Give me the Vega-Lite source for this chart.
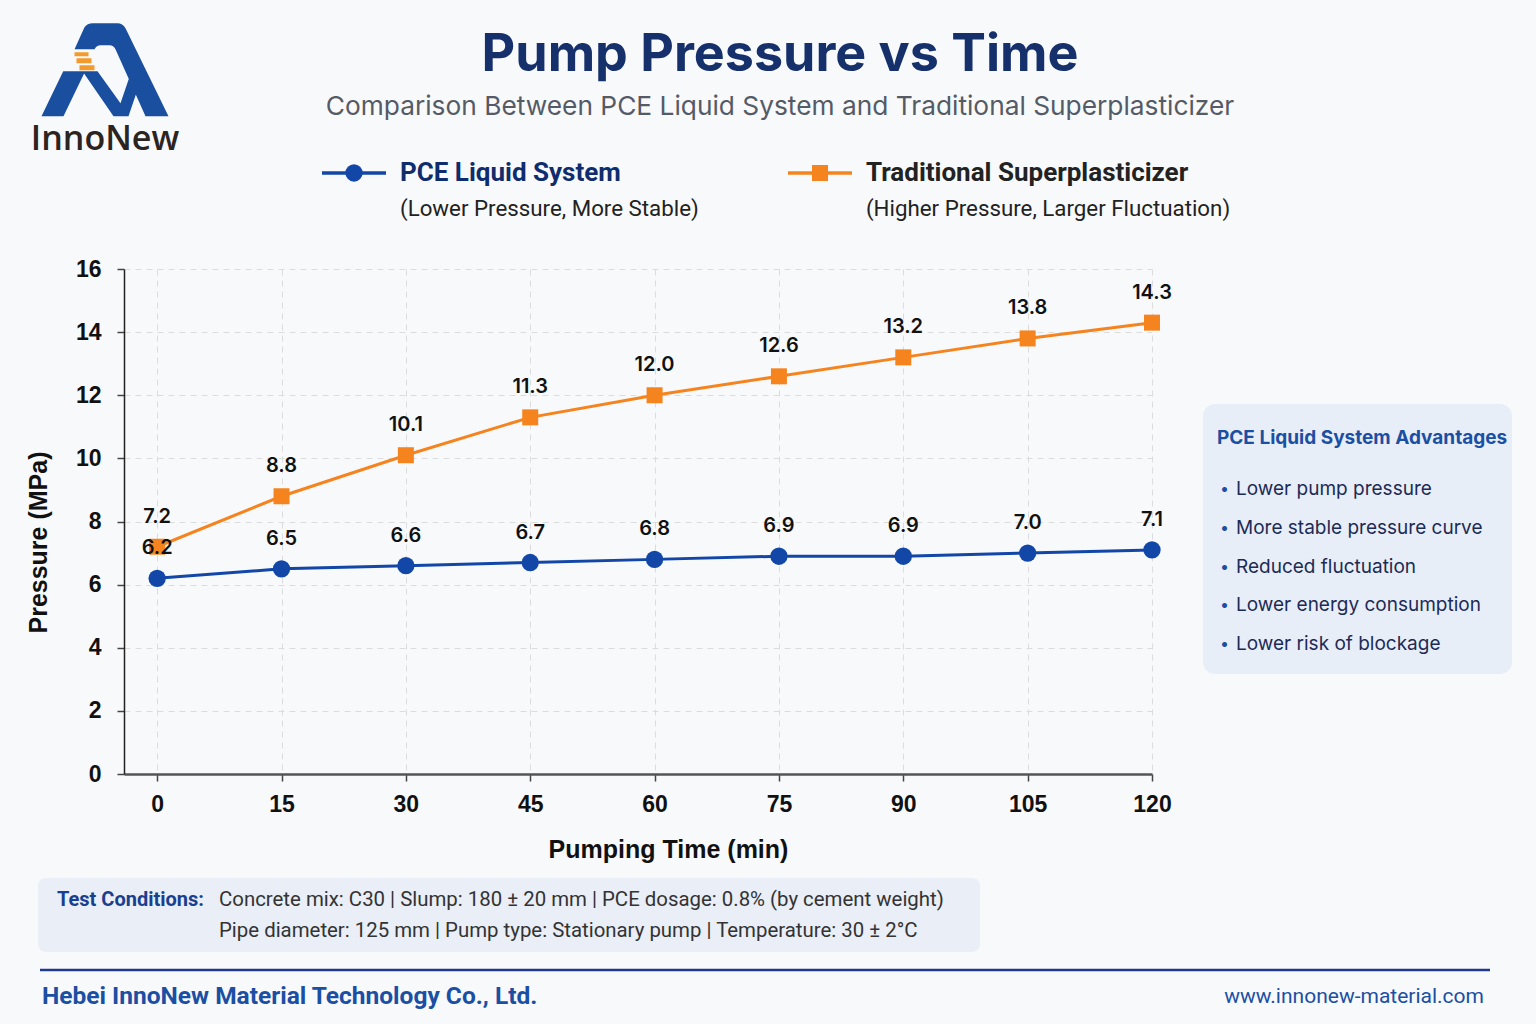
{
  "$schema": "https://vega.github.io/schema/vega-lite/v6.json",
  "background": "#f8f9fb",
  "padding": {"left": 25, "top": 15, "right": 24, "bottom": 13},
  "spacing": 16,
  "config": {"view": {"stroke": null}, "font": "Inter"},
  "datasets": {
    "pressure": [
      {"time": 0, "series": "PCE Liquid System", "pressure": 6.2},
      {"time": 15, "series": "PCE Liquid System", "pressure": 6.5},
      {"time": 30, "series": "PCE Liquid System", "pressure": 6.6},
      {"time": 45, "series": "PCE Liquid System", "pressure": 6.7},
      {"time": 60, "series": "PCE Liquid System", "pressure": 6.8},
      {"time": 75, "series": "PCE Liquid System", "pressure": 6.9},
      {"time": 90, "series": "PCE Liquid System", "pressure": 6.9},
      {"time": 105, "series": "PCE Liquid System", "pressure": 7.0},
      {"time": 120, "series": "PCE Liquid System", "pressure": 7.1},
      {"time": 0, "series": "Traditional Superplasticizer", "pressure": 7.2},
      {"time": 15, "series": "Traditional Superplasticizer", "pressure": 8.8},
      {"time": 30, "series": "Traditional Superplasticizer", "pressure": 10.1},
      {"time": 45, "series": "Traditional Superplasticizer", "pressure": 11.3},
      {"time": 60, "series": "Traditional Superplasticizer", "pressure": 12.0},
      {"time": 75, "series": "Traditional Superplasticizer", "pressure": 12.6},
      {"time": 90, "series": "Traditional Superplasticizer", "pressure": 13.2},
      {"time": 105, "series": "Traditional Superplasticizer", "pressure": 13.8},
      {"time": 120, "series": "Traditional Superplasticizer", "pressure": 14.3}
    ],
    "legend": [
      {"series": "PCE Liquid System", "note": "(Lower Pressure, More Stable)"},
      {"series": "Traditional Superplasticizer", "note": "(Higher Pressure, Larger Fluctuation)"}
    ],
    "header": [
      {"title": "Pump Pressure vs Time", "subtitle": "Comparison Between PCE Liquid System and Traditional Superplasticizer"}
    ],
    "brand": [
      {"name": "InnoNew", "company": "Hebei InnoNew Material Technology Co., Ltd.", "url": "www.innonew-material.com"}
    ],
    "advantages": [
      {"n": 0, "text": "PCE Liquid System Advantages"},
      {"n": 1, "text": "Lower pump pressure"},
      {"n": 2, "text": "More stable pressure curve"},
      {"n": 3, "text": "Reduced fluctuation"},
      {"n": 4, "text": "Lower energy consumption"},
      {"n": 5, "text": "Lower risk of blockage"}
    ],
    "conditions": [
      {"line": 1, "text": "Concrete mix: C30 | Slump: 180 ± 20 mm | PCE dosage: 0.8% (by cement weight)"},
      {"line": 2, "text": "Pipe diameter: 125 mm | Pump type: Stationary pump | Temperature: 30 ± 2°C"}
    ]
  },
  "vconcat": [
    {
      "spacing": 0,
      "hconcat": [
        {
          "width": 160,
          "height": 180,
          "data": {"name": "brand"},
          "layer": [
            {
              "mark": {"type": "point", "shape": "M-0.48,-0.323L-0.323,-0.669Q-0.276,-0.732,-0.197,-0.732L0.197,-0.732Q0.276,-0.732,0.323,-0.654L1,0.732L0.638,0.732L0.165,-0.323Q0.134,-0.386,0.071,-0.386L-0.071,-0.386Q-0.134,-0.386,-0.165,-0.323ZM-0.658,0.024L-0.312,0.024L-0.654,0.732L-1,0.732ZM-0.354,0.024L-0.118,0.024L0.244,0.528L0.48,-0.165L0.606,0.039L0.37,0.732L0.134,0.732Z", "size": 16129, "filled": true, "color": "#1a4fa0", "opacity": 1, "strokeWidth": 0},
              "encoding": {"y": {"datum": "glyph", "type": "nominal", "scale": {"type": "point", "domain": ["glyph", "name"], "padding": 0.7766, "align": 0.5}, "axis": null}}
            },
            {
              "mark": {"type": "point", "shape": "M-0.48,-0.276L-0.26,-0.276L-0.26,-0.213L-0.48,-0.213ZM-0.449,-0.181L-0.213,-0.181L-0.213,-0.102L-0.449,-0.102ZM-0.402,-0.071L-0.165,-0.071L-0.165,0.008L-0.402,0.008Z", "size": 16129, "filled": true, "color": "#f39a2c", "opacity": 1, "strokeWidth": 0},
              "encoding": {"y": {"datum": "glyph", "type": "nominal"}}
            },
            {
              "mark": {"type": "text", "font": "Open Sans", "fontSize": 34, "fontWeight": 600, "color": "#2b2421"},
              "encoding": {"y": {"datum": "name", "type": "nominal"}, "text": {"field": "name"}}
            }
          ]
        },
        {
          "spacing": 0,
          "vconcat": [
            {
              "width": 1190,
              "height": 130,
              "data": {"name": "header"},
              "layer": [
                {
                  "mark": {"type": "text", "font": "Inter", "fontSize": 52, "fontWeight": "bold", "color": "#15306b"},
                  "encoding": {"y": {"datum": "title", "type": "nominal", "scale": {"type": "point", "domain": ["title", "subtitle"], "padding": 0.75, "align": 0.5128}, "axis": null}, "text": {"field": "title"}}
                },
                {
                  "mark": {"type": "text", "font": "Inter", "fontSize": 26.3, "color": "#555b66"},
                  "encoding": {"y": {"datum": "subtitle", "type": "nominal"}, "text": {"field": "subtitle"}}
                }
              ]
            },
            {
              "width": 804,
              "height": 97,
              "data": {"name": "legend"},
              "encoding": {
                "x": {"field": "series", "type": "nominal", "scale": {"type": "point", "domain": ["PCE Liquid System", "Traditional Superplasticizer"], "padding": 0.3627}, "axis": null}
              },
              "layer": [
                {
                  "mark": {"type": "point", "shape": "stroke", "size": 4096, "strokeWidth": 3.5, "opacity": 1, "filled": false},
                  "encoding": {
                    "y": {"datum": "name", "type": "nominal", "scale": {"type": "point", "domain": ["name", "note"], "padding": 0.847, "align": 0.459}, "axis": null},
                    "color": {"field": "series", "type": "nominal", "scale": {"domain": ["PCE Liquid System", "Traditional Superplasticizer"], "range": ["#1247a8", "#f5841f"]}, "legend": null}
                  }
                },
                {
                  "mark": {"type": "point", "filled": true, "opacity": 1, "strokeWidth": 0},
                  "encoding": {
                    "y": {"datum": "name", "type": "nominal"},
                    "color": {"field": "series", "type": "nominal", "scale": {"domain": ["PCE Liquid System", "Traditional Superplasticizer"], "range": ["#1247a8", "#f5841f"]}, "legend": null},
                    "shape": {"field": "series", "type": "nominal", "scale": {"domain": ["PCE Liquid System", "Traditional Superplasticizer"], "range": ["circle", "square"]}, "legend": null},
                    "size": {"field": "series", "type": "nominal", "scale": {"domain": ["PCE Liquid System", "Traditional Superplasticizer"], "range": [300, 256]}, "legend": null}
                  }
                },
                {
                  "mark": {"type": "text", "align": "left", "dx": 46, "font": "Roboto", "fontSize": 26, "fontWeight": "bold"},
                  "encoding": {
                    "y": {"datum": "name", "type": "nominal"},
                    "text": {"field": "series"},
                    "color": {"condition": {"test": "datum.series === 'PCE Liquid System'", "value": "#0f2d6e"}, "value": "#222222"}
                  }
                },
                {
                  "mark": {"type": "text", "align": "left", "dx": 46, "font": "Roboto", "fontSize": 22.3, "color": "#222222"},
                  "encoding": {
                    "y": {"datum": "note", "type": "nominal"},
                    "text": {"field": "note"}
                  }
                }
              ]
            }
          ]
        }
      ]
    },
    {
      "spacing": 0,
      "hconcat": [
        {"width": 1, "height": 10, "data": {"values": []}, "mark": "point"},
        {
          "spacing": 31,
          "hconcat": [
            {
              "width": 1028,
              "height": 505,
              "data": {"name": "pressure"},
              "encoding": {
                "x": {
                  "field": "time", "type": "quantitative",
                  "scale": {"domain": [-4, 120], "nice": false, "zero": false},
                  "axis": {"values": [0, 15, 30, 45, 60, 75, 90, 105, 120], "title": "Pumping Time (min)", "titleX": 544, "grid": true, "gridDash": [6, 5], "gridColor": "#dcdcdc", "gridWidth": 1, "domainColor": "#555555", "domainWidth": 2.5, "tickColor": "#444444", "tickWidth": 1.5, "tickSize": 7, "labelFlush": false, "labelFont": "Liberation Sans", "labelFontSize": 23, "labelFontWeight": "bold", "labelColor": "#111111", "labelPadding": 12, "titleFont": "Liberation Sans", "titleFontSize": 25, "titleFontWeight": "bold", "titleColor": "#111111", "titlePadding": 21}
                },
                "y": {
                  "field": "pressure", "type": "quantitative",
                  "scale": {"domain": [0, 16], "nice": false},
                  "axis": {"values": [0, 2, 4, 6, 8, 10, 12, 14, 16], "title": "Pressure (MPa)", "titleY": 273, "grid": true, "gridDash": [6, 5], "gridColor": "#dcdcdc", "gridWidth": 1, "domainColor": "#222222", "domainWidth": 1.5, "tickColor": "#444444", "tickWidth": 1.5, "tickSize": 7, "labelFlush": false, "labelFont": "Liberation Sans", "labelFontSize": 23, "labelFontWeight": "bold", "labelColor": "#111111", "labelPadding": 16, "titleFont": "Liberation Sans", "titleFontSize": 25, "titleFontWeight": "bold", "titleColor": "#111111", "titlePadding": 24}
                },
                "color": {"field": "series", "type": "nominal", "scale": {"domain": ["PCE Liquid System", "Traditional Superplasticizer"], "range": ["#1247a8", "#f5841f"]}, "legend": null}
              },
              "layer": [
                {"mark": {"type": "line", "strokeWidth": 3}},
                {
                  "mark": {"type": "point", "filled": true, "opacity": 1, "strokeWidth": 0},
                  "encoding": {
                    "shape": {"field": "series", "type": "nominal", "scale": {"domain": ["PCE Liquid System", "Traditional Superplasticizer"], "range": ["circle", "square"]}, "legend": null},
                    "size": {"field": "series", "type": "nominal", "scale": {"domain": ["PCE Liquid System", "Traditional Superplasticizer"], "range": [300, 256]}, "legend": null}
                  }
                },
                {
                  "mark": {"type": "text", "dy": -30, "font": "Inter", "fontSize": 20, "fontWeight": 600},
                  "encoding": {
                    "text": {"field": "pressure", "type": "quantitative", "format": ".1f"},
                    "color": {"value": "#111111"}
                  }
                }
              ]
            },
            {
              "spacing": 0,
              "vconcat": [
                {"width": 309, "height": 135, "data": {"values": []}, "mark": "point"},
                {
                  "width": 309,
                  "height": 270,
                  "view": {"fill": "#e8eef8", "cornerRadius": 12, "stroke": null},
                  "data": {"name": "advantages"},
                  "encoding": {
                    "x": {"datum": "start", "type": "nominal", "scale": {"type": "point", "domain": ["start", "end"], "padding": 0}, "axis": null},
                    "y": {"field": "n", "type": "ordinal", "scale": {"type": "point", "padding": 0.984, "align": 0.6066}, "axis": null}
                  },
                  "layer": [
                    {
                      "transform": [{"filter": "datum.n == 0"}],
                      "mark": {"type": "text", "align": "left", "dx": 14, "dy": -12, "font": "Inter", "fontSize": 19, "fontWeight": "bold", "color": "#1b4fa3"},
                      "encoding": {"text": {"field": "text"}}
                    },
                    {
                      "transform": [{"filter": "datum.n > 0"}],
                      "mark": {"type": "text", "align": "left", "dx": 17, "font": "Inter", "fontSize": 16, "color": "#1b4fa3"},
                      "encoding": {"text": {"value": "•"}}
                    },
                    {
                      "transform": [{"filter": "datum.n > 0"}],
                      "mark": {"type": "text", "align": "left", "dx": 33, "font": "Inter", "fontSize": 19, "color": "#1c2b55"},
                      "encoding": {"text": {"field": "text"}}
                    }
                  ]
                }
              ]
            }
          ]
        }
      ]
    },
    {
      "spacing": 12,
      "hconcat": [
        {"width": 1, "height": 74, "data": {"values": []}, "mark": "point"},
        {
          "width": 942,
          "height": 74,
          "view": {"fill": "#e9eef7", "cornerRadius": 8, "stroke": null},
          "data": {"name": "conditions"},
          "encoding": {
            "x": {"datum": "start", "type": "nominal", "scale": {"type": "point", "domain": ["start", "end"], "padding": 0}, "axis": null},
            "y": {"field": "line", "type": "ordinal", "scale": {"type": "point", "padding": 0.6935, "align": 0.5116}, "axis": null}
          },
          "layer": [
            {
              "transform": [{"filter": "datum.line == 1"}],
              "mark": {"type": "text", "align": "left", "dx": 19, "font": "Roboto", "fontSize": 20, "fontWeight": "bold", "color": "#1a3f8f"},
              "encoding": {"text": {"value": "Test Conditions:"}}
            },
            {
              "mark": {"type": "text", "align": "left", "dx": 181, "font": "Roboto", "fontSize": 20.4, "color": "#333333"},
              "encoding": {"text": {"field": "text"}}
            }
          ]
        }
      ]
    },
    {
      "spacing": 12,
      "hconcat": [
        {"width": 1, "height": 45, "data": {"values": []}, "mark": "point"},
        {
          "width": 1450,
          "height": 45,
          "data": {"name": "brand"},
          "encoding": {
            "y": {"datum": "text", "type": "nominal", "scale": {"type": "point", "domain": ["rule", "text"], "padding": 0.3333, "align": 0.0556}, "axis": null}
          },
          "layer": [
            {
              "mark": {"type": "rule", "color": "#1d3a8a", "strokeWidth": 2.5},
              "encoding": {"y": {"datum": "rule", "type": "nominal"}}
            },
            {
              "mark": {"type": "text", "align": "left", "dx": 2, "font": "Roboto", "fontSize": 24.5, "fontWeight": "bold", "color": "#1b4fa3"},
              "encoding": {
                "x": {"datum": "start", "type": "nominal", "scale": {"type": "point", "domain": ["start", "end"], "padding": 0}, "axis": null},
                "text": {"field": "company"}
              }
            },
            {
              "mark": {"type": "text", "align": "right", "dx": -6, "font": "Roboto", "fontSize": 21, "color": "#1b4fa3"},
              "encoding": {
                "x": {"datum": "end", "type": "nominal"},
                "text": {"field": "url"}
              }
            }
          ]
        }
      ]
    }
  ]
}
